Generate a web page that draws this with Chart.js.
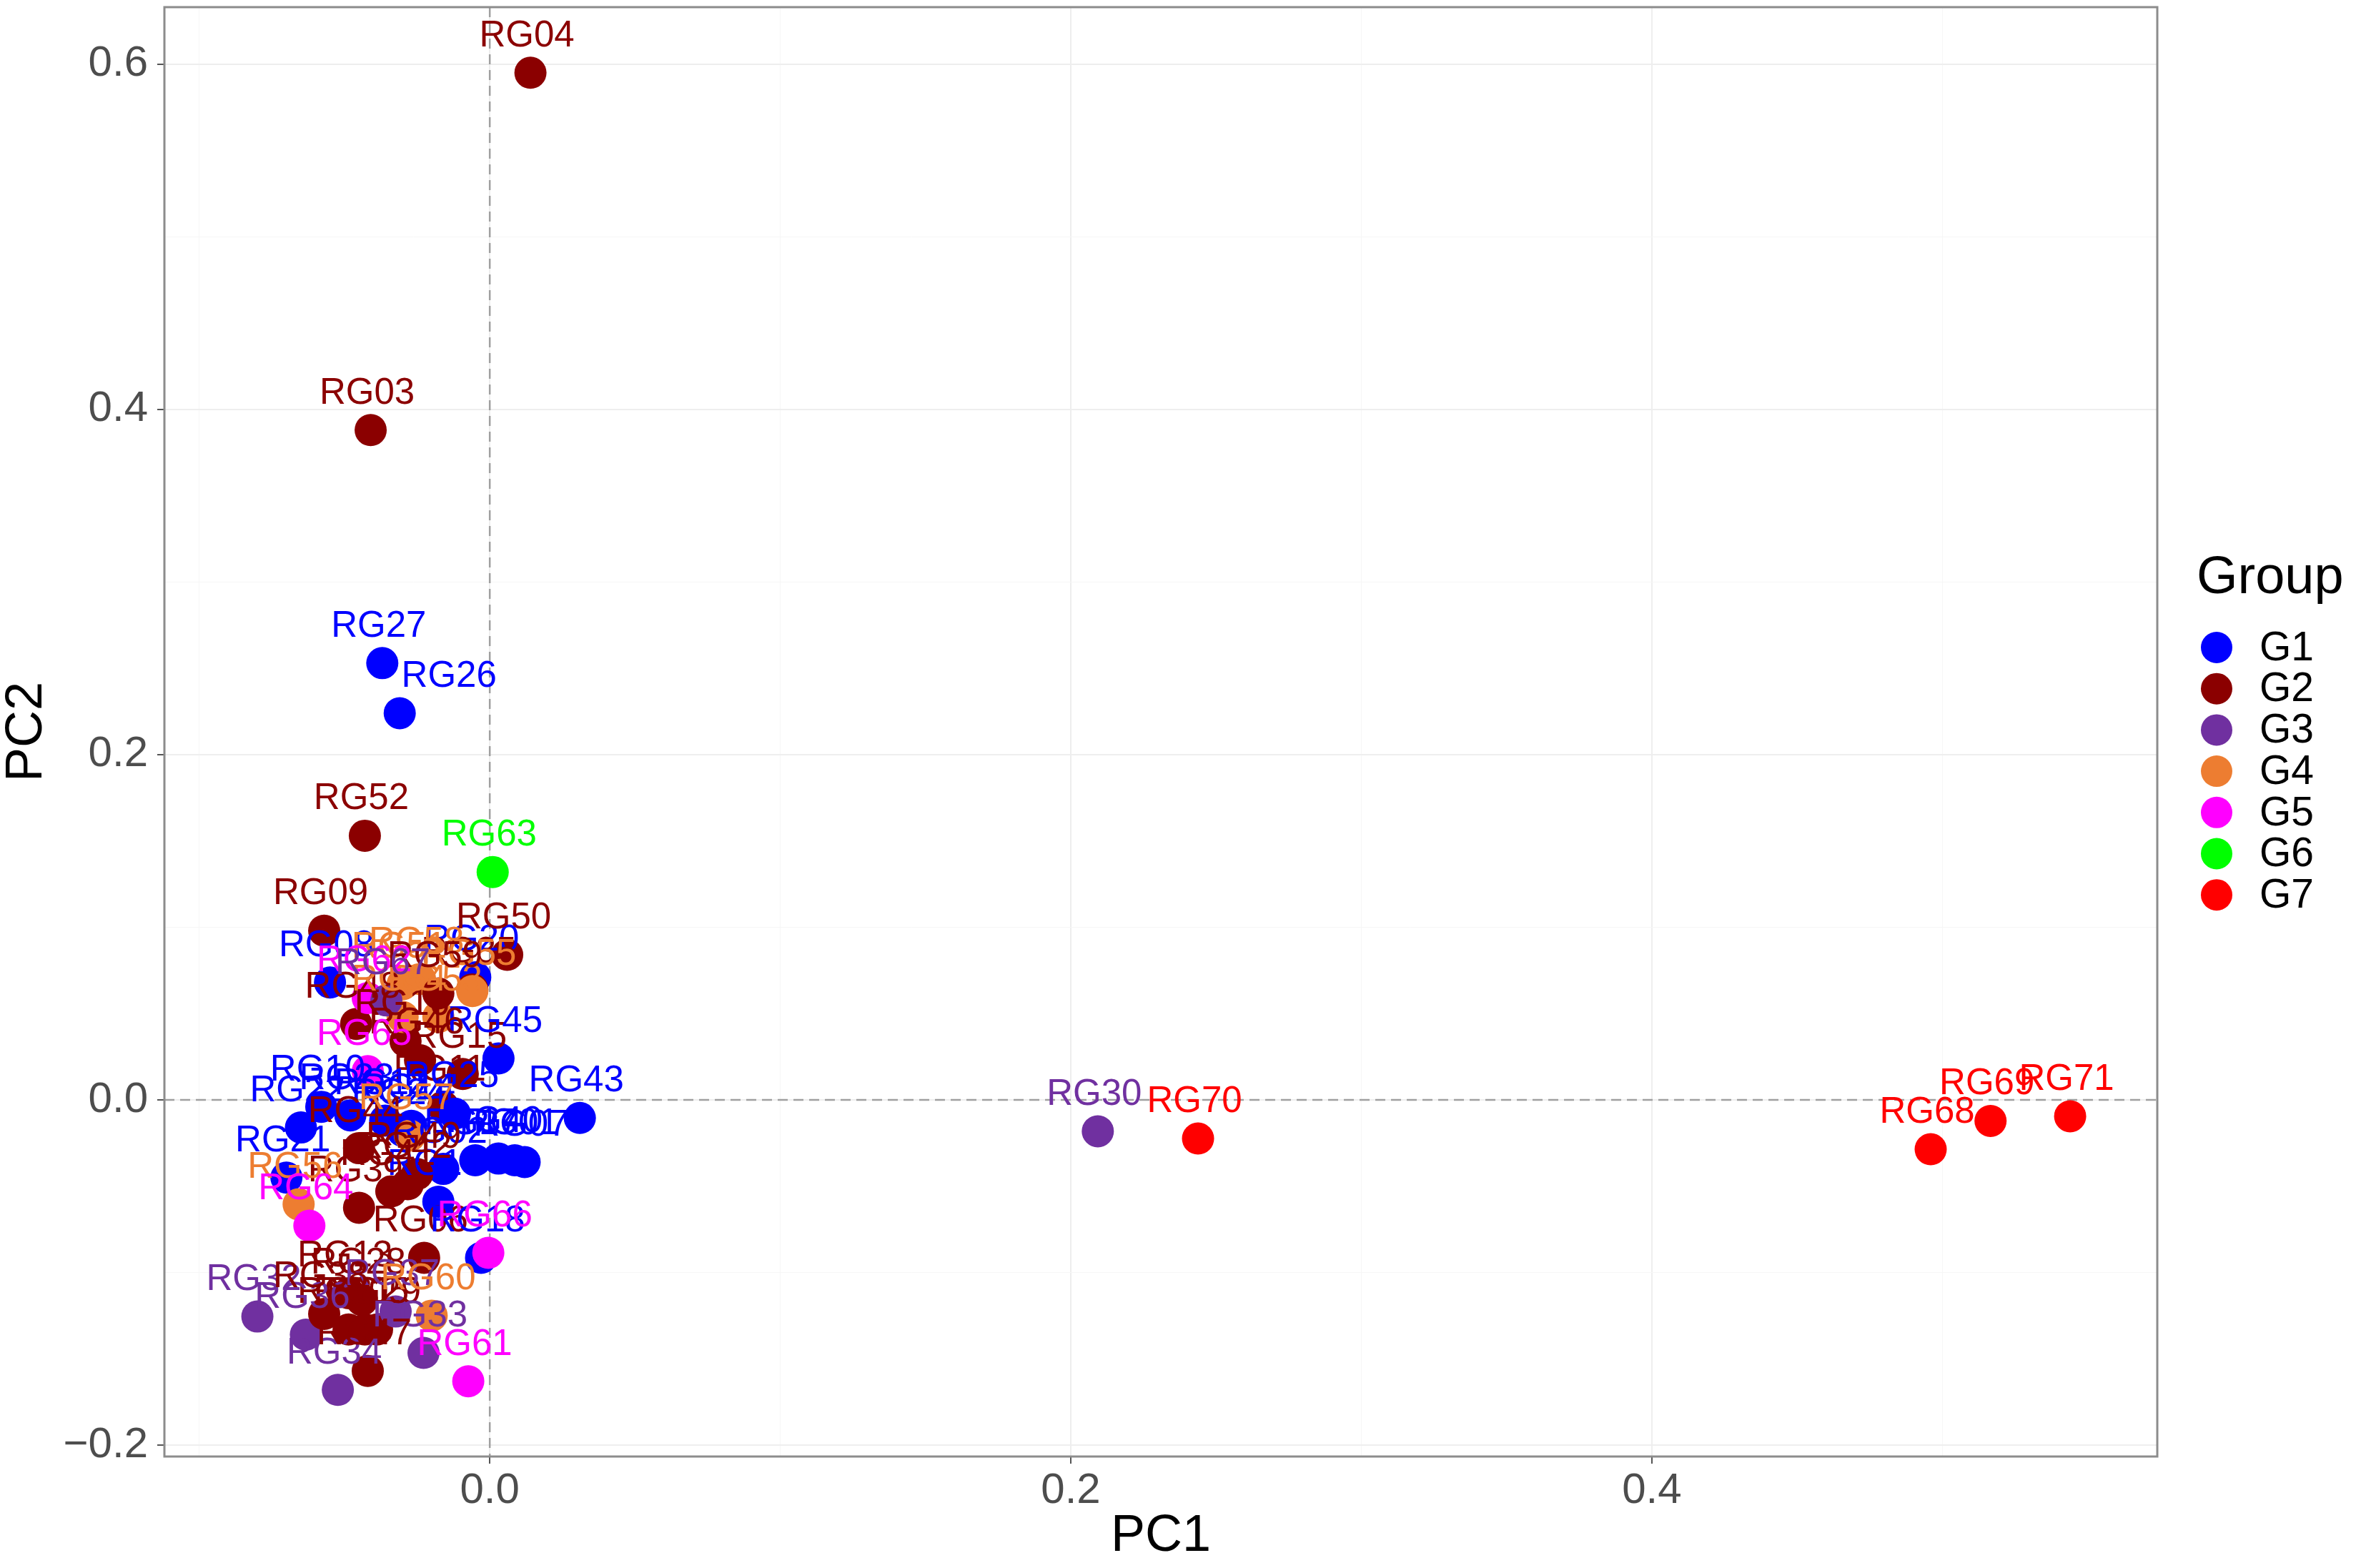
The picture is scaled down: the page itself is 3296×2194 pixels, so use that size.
<!DOCTYPE html>
<html>
<head>
<meta charset="utf-8">
<title>PCA</title>
<script src="https://cdn.jsdelivr.net/npm/chart.js@4.4.1/dist/chart.umd.min.js"></script>
<style>
  html, body { margin: 0; padding: 0; background: #ffffff; }
  #wrap { width: 3296px; height: 2194px; }
</style>
</head>
<body>
<div id="wrap"><canvas id="pca" width="3296" height="2194"></canvas></div>
<script>
// groups and their colours
const groupNames = ['G1', 'G2', 'G3', 'G4', 'G5', 'G6', 'G7'];
const groupColors = {
  G1: '#0000FF', G2: '#8B0000', G3: '#7030A0', G4: '#ED7D31',
  G5: '#FF00FF', G6: '#00FF00', G7: '#FF0000'
};

// samples (the dense cluster is an estimate)
const sampleNames = [
  'RG01', 'RG02', 'RG03', 'RG04', 'RG05', 'RG06', 'RG07', 'RG08', 'RG09', 'RG10',
  'RG11', 'RG12', 'RG13', 'RG14', 'RG15', 'RG16', 'RG17', 'RG18', 'RG19', 'RG20',
  'RG21', 'RG22', 'RG23', 'RG24', 'RG25', 'RG26', 'RG27', 'RG28', 'RG29', 'RG30',
  'RG31', 'RG32', 'RG33', 'RG34', 'RG35', 'RG36', 'RG37', 'RG38', 'RG39', 'RG40',
  'RG41', 'RG42', 'RG43', 'RG44', 'RG45', 'RG46', 'RG47', 'RG48', 'RG49', 'RG50',
  'RG51', 'RG52', 'RG53', 'RG54', 'RG55', 'RG56', 'RG57', 'RG58', 'RG59', 'RG60',
  'RG61', 'RG62', 'RG63', 'RG64', 'RG65', 'RG66', 'RG67', 'RG68', 'RG69', 'RG70',
  'RG71'
];
const sampleGroups = [
  'G1', 'G1', 'G2', 'G2', 'G2', 'G2', 'G1', 'G1', 'G2', 'G1',
  'G2', 'G1', 'G2', 'G1', 'G2', 'G2', 'G1', 'G1', 'G1', 'G1',
  'G1', 'G1', 'G1', 'G1', 'G1', 'G1', 'G1', 'G2', 'G2', 'G3',
  'G2', 'G3', 'G3', 'G3', 'G2', 'G3', 'G3', 'G2', 'G2', 'G1',
  'G2', 'G2', 'G1', 'G2', 'G1', 'G2', 'G2', 'G2', 'G2', 'G2',
  'G4', 'G2', 'G4', 'G4', 'G4', 'G4', 'G4', 'G4', 'G2', 'G4',
  'G5', 'G5', 'G6', 'G5', 'G5', 'G5', 'G3', 'G7', 'G7', 'G7',
  'G7'
];
const pc1 = [
  0.0086, -0.016, -0.041, 0.014, -0.043, -0.0226, 0.012, -0.055, -0.057, -0.058,
  -0.016, -0.036, -0.0486, -0.027, -0.0093, -0.029, -0.005, -0.003, -0.0177, -0.005,
  -0.070, -0.065, -0.048, -0.030, -0.012, -0.031, -0.037, -0.044, -0.0388, 0.2093,
  -0.0486, -0.080, -0.0228, -0.0523, -0.006, -0.0633, -0.0324, -0.057, -0.045, 0.003,
  -0.0339, -0.0282, 0.031, -0.045, 0.003, -0.024, -0.042, -0.046, -0.025, 0.006,
  -0.030, -0.043, -0.0177, -0.030, -0.006, -0.0658, -0.0275, -0.024, -0.0177, -0.020,
  -0.0074, -0.042, 0.001, -0.0621, -0.042, -0.0005, -0.0356, 0.496, 0.5166, 0.2438,
  0.544
];
const pc2 = [
  -0.035, -0.040, 0.388, 0.595, -0.133, -0.0915, -0.036, 0.068, 0.098, -0.004,
  -0.004, -0.012, -0.112, -0.015, 0.015, 0.034, -0.035, -0.0915, -0.059, 0.071,
  -0.045, -0.016, -0.009, -0.018, -0.008, 0.224, 0.253, -0.116, -0.133, -0.0182,
  -0.133, -0.1255, -0.1466, -0.168, 0.064, -0.136, -0.1226, -0.124, -0.0625, -0.034,
  -0.053, -0.0489, -0.0105, -0.028, 0.024, 0.023, -0.157, 0.044, -0.043, 0.084,
  0.067, 0.153, 0.048, 0.048, 0.063, -0.0605, -0.0207, 0.070, 0.0617, -0.125,
  -0.163, 0.059, 0.132, -0.0729, 0.0166, -0.0886, 0.0576, -0.0286, -0.0122, -0.0224,
  -0.0095
];

// axes
const xRange = [-0.112, 0.574];
const yRange = [-0.2066, 0.633];
const xTickValues = [0, 0.2, 0.4];
const yTickValues = [-0.2, 0, 0.2, 0.4, 0.6];

// a few labels that ggrepel pushed sideways
const labelNudge = { RG26: 74 };

const family = '"Liberation Sans", Arial, Helvetica, sans-serif';

const isMajor = (list, v) => list.some(t => Math.abs(t - v) < 1e-6);
const fmt = v => (v < 0 ? '\u2212' : '') + Math.abs(v).toFixed(1);

const points = sampleNames.map((n, i) => ({ x: pc1[i], y: pc2[i] }));

// dashed lines at 0 and the panel box
const panelPlugin = {
  id: 'panelLines',
  beforeDatasetsDraw(chart) {
    const { ctx, chartArea: a, scales } = chart;
    const x0 = scales.x.getPixelForValue(0);
    const y0 = scales.y.getPixelForValue(0);
    ctx.save();
    ctx.strokeStyle = '#a0a0a0';
    ctx.lineWidth = 2.5;
    ctx.setLineDash([14, 8]);
    ctx.beginPath();
    ctx.moveTo(a.left, y0); ctx.lineTo(a.right, y0);
    ctx.moveTo(x0, a.top); ctx.lineTo(x0, a.bottom);
    ctx.stroke();
    ctx.restore();
  },
  afterDraw(chart) {
    const { ctx, chartArea: a } = chart;
    ctx.save();
    ctx.strokeStyle = '#8c8c8c';
    ctx.lineWidth = 3;
    ctx.strokeRect(a.left, a.top, a.right - a.left, a.bottom - a.top);
    ctx.restore();
  }
};

// sample names above each point
const labelPlugin = {
  id: 'sampleLabels',
  afterDatasetsDraw(chart) {
    const ctx = chart.ctx;
    const meta = chart.getDatasetMeta(0);
    ctx.save();
    ctx.font = '51px ' + family;
    ctx.textAlign = 'center';
    ctx.textBaseline = 'alphabetic';
    meta.data.forEach((pt, i) => {
      const name = sampleNames[i];
      ctx.fillStyle = groupColors[sampleGroups[i]];
      ctx.fillText(name, pt.x - 5 + (labelNudge[name] || 0), pt.y - 37);
    });
    ctx.restore();
  }
};

// legend on the right, like ggplot's
const legendPlugin = {
  id: 'groupLegend',
  afterDraw(chart) {
    const { ctx, chartArea: a } = chart;
    const mid = (a.top + a.bottom) / 2;
    ctx.save();
    ctx.fillStyle = '#000000';
    ctx.font = '74px ' + family;
    ctx.textAlign = 'left';
    ctx.textBaseline = 'alphabetic';
    ctx.fillText('Group', a.right + 55, mid - 194);
    groupNames.forEach((g, i) => {
      const cy = mid - 118 + i * 57.7;
      ctx.beginPath();
      ctx.arc(a.right + 83, cy, 22, 0, Math.PI * 2);
      ctx.fillStyle = groupColors[g];
      ctx.fill();
      ctx.fillStyle = '#000000';
      ctx.font = '57px ' + family;
      ctx.textBaseline = 'middle';
      ctx.fillText(g, a.right + 143, cy + 2);
    });
    ctx.restore();
  }
};

const gridColor = list => c => (c.tick && isMajor(list, c.tick.value)) ? '#eeeeee' : '#f6f6f6';
const gridWidth = list => c => (c.tick && isMajor(list, c.tick.value)) ? 2 : 1;
const tickColor = list => c => (c.tick && isMajor(list, c.tick.value)) ? '#555555' : 'rgba(0,0,0,0)';

new Chart(document.getElementById('pca'), {
  type: 'scatter',
  data: {
    datasets: [{
      label: 'samples',
      data: points,
      backgroundColor: sampleGroups.map(g => groupColors[g]),
      borderWidth: 0,
      pointRadius: 22.5,
      pointHoverRadius: 22.5
    }]
  },
  options: {
    responsive: false,
    devicePixelRatio: 1,
    animation: false,
    layout: { autoPadding: false, padding: { top: 10, right: 278, bottom: 0, left: 0 } },
    plugins: { legend: { display: false }, tooltip: { enabled: false } },
    scales: {
      x: {
        type: 'linear',
        min: xRange[0],
        max: xRange[1],
        ticks: {
          stepSize: 0.1,
          includeBounds: false,
          autoSkip: false,
          maxRotation: 0,
          padding: 2,
          color: '#4d4d4d',
          font: { size: 60, family: family },
          callback: v => isMajor(xTickValues, v) ? fmt(v) : ''
        },
        grid: {
          color: gridColor(xTickValues),
          lineWidth: gridWidth(xTickValues),
          tickColor: tickColor(xTickValues),
          tickLength: 10,
          tickWidth: 2
        },
        border: { display: false },
        title: {
          display: true, text: 'PC1', color: '#000000',
          font: { size: 72, family: family, lineHeight: 1 },
          padding: { top: 0, bottom: 8 }
        },
        afterFit: s => {
          s.height = 156;
          s.paddingLeft = 0; s.paddingRight = 0;
        }
      },
      y: {
        type: 'linear',
        min: yRange[0],
        max: yRange[1],
        ticks: {
          stepSize: 0.1,
          includeBounds: false,
          autoSkip: false,
          padding: 13,
          color: '#4d4d4d',
          font: { size: 60, family: family },
          callback: v => isMajor(yTickValues, v) ? fmt(v) : ''
        },
        grid: {
          color: gridColor(yTickValues),
          lineWidth: gridWidth(yTickValues),
          tickColor: tickColor(yTickValues),
          tickLength: 10,
          tickWidth: 2
        },
        border: { display: false },
        title: {
          display: true, text: 'PC2', color: '#000000',
          font: { size: 72, family: family, lineHeight: 1 },
          padding: { top: 2, bottom: 0 }
        },
        afterFit: s => {
          s.width = 230;
          s.paddingTop = 0; s.paddingBottom = 0;
        }
      }
    }
  },
  plugins: [panelPlugin, labelPlugin, legendPlugin]
});
</script>
</body>
</html>
